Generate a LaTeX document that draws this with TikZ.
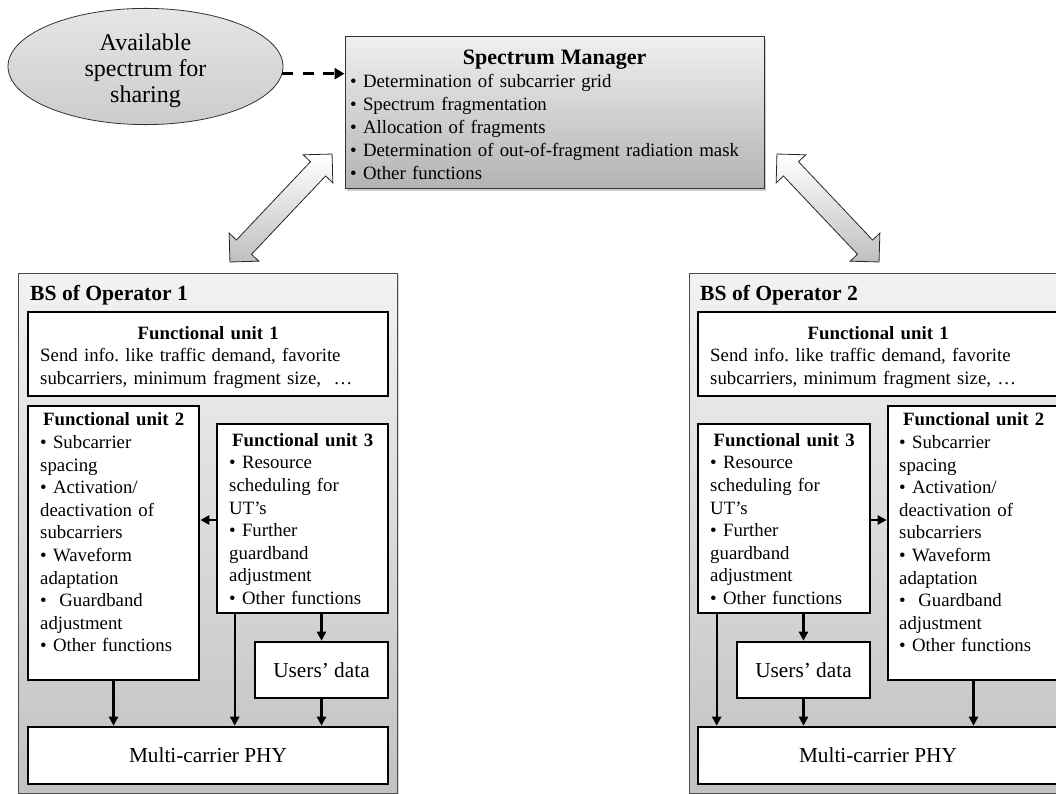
\documentclass[tikz,border=0pt]{standalone}
\usepackage{fontspec}
\setmainfont{Liberation Serif}
\frenchspacing
\usetikzlibrary{shapes.geometric,shapes.arrows,arrows.meta,shadows}
\begin{document}
\begin{tikzpicture}[x=1pt,y=-1pt,
  bsbox/.style={rectangle, draw=black!70, line width=0.9pt, top color=black!5, bottom color=black!24, inner sep=0pt, drop shadow={shadow xshift=1.5pt, shadow yshift=-1.5pt, opacity=0.3}},
  smbox/.style={rectangle, draw=black!80, line width=1pt, top color=black!6, bottom color=black!30, inner sep=0pt, drop shadow={shadow xshift=2pt, shadow yshift=-2pt, opacity=0.4}},
  ellnode/.style={ellipse, draw=black!80, line width=0.8pt, top color=black!10, bottom color=black!20, inner sep=0pt, align=center, font=\fontsize{24}{26}\selectfont},
  fubox/.style={rectangle, draw=black, line width=2.6pt, fill=white, inner sep=0pt},
  bigtext/.style={font=\fontsize{21.3}{24}\selectfont},
  futext/.style={anchor=north west, inner sep=0pt, text width=#1, align=left, font=\fontsize{18.8}{22.6}\selectfont},
  smtext/.style={anchor=north west, inner sep=0pt, text width=#1, align=left, font=\fontsize{18.8}{23}\selectfont},
  bstitle/.style={anchor=base west, inner sep=0pt, font=\fontsize{21.6}{26}\selectfont\bfseries},
  arr/.style={line width=2.4pt, -{Triangle[length=9pt,width=9pt]}},
  dasharr/.style={line width=3.4pt, dash pattern=on 11pt off 9.5pt, -{Triangle[length=10pt,width=11pt]}},
  blockarr/.style={double arrow, draw=black!85, line width=0.8pt, inner sep=10pt, double arrow head extend=10pt, double arrow tip angle=90, top color=white, bottom color=black!25},
]
\useasboundingbox (0,0) rectangle (1056,794);
\clip (0,0) rectangle (1056,794);

% top part
\node[ellnode, minimum width=275pt, minimum height=99pt] (avail) at (145.5,66.5) {\rule{0pt}{25pt}Available\\spectrum for\\sharing};
\node[smbox, minimum width=419pt, minimum height=152pt] (sm) at (554.5,113) {};
\node[smtext=409pt] (smt) at (350,47.9) {{\fontsize{22}{23}\selectfont\centering\bfseries\strut Spectrum Manager\par}\strut • Determination of subcarrier grid\\• Spectrum fragmentation\\• Allocation of fragments\\• Determination of out-of-fragment radiation mask\\• Other functions};
\coordinate (dstart) at (avail.-3);
\draw[dasharr] (dstart) -- (sm.west |- dstart);

\node[blockarr, rotate=46.6, minimum height=148.6pt] (ba1) at (281,208) {};
\node[blockarr, rotate=-46.6, minimum height=148.6pt] (ba2) at (828,208) {};

% operator 1
\node[bsbox, minimum width=379pt, minimum height=520.5pt] (bs1) at (207.5,533.25) {};
\node[bstitle] (bs1t) at (30,300) {BS of Operator 1};
\node[fubox, minimum width=360pt, minimum height=84pt] (fu1a) at (208,354) {};
\node[fubox, minimum width=171pt, minimum height=274pt] (fu2a) at (113.5,543) {};
\node[fubox, minimum width=171pt, minimum height=189pt] (fu3a) at (302.5,518.5) {};
\node[fubox, minimum width=133pt, minimum height=56pt, bigtext] (usa) at (321.5,670) {Users’ data};
\node[fubox, minimum width=360pt, minimum height=57pt, bigtext] (phya) at (208,755.5) {Multi-carrier PHY};
\node[futext=336pt] (t1a) at (40,323.2) {{\centering\bfseries\strut Functional unit 1\par}Send info. like traffic demand, favorite\\subcarriers, minimum fragment size,\ \ …};
\node[futext=147pt] (t2a) at (40,409.9) {{\centering\bfseries\strut Functional unit 2\par}• Subcarrier\\spacing\\• Activation/\\deactivation of\\subcarriers\\• Waveform\\adaptation\\•\ \ Guardband\\adjustment\\• Other functions};
\node[futext=147pt] (t3a) at (229,430.2) {{\centering\bfseries\strut Functional unit 3\par}• Resource\\scheduling for\\UT’s\\• Further\\guardband\\adjustment\\• Other functions};
\draw[arr] ([yshift=-1.5pt]fu3a.west) -- ([yshift=-1.5pt]fu3a.west -| fu2a.east);
\draw[arr] (fu2a.south) -- (fu2a.south |- phya.north);
\coordinate (c3a) at ([xshift=19pt]fu3a.south west);
\draw[arr] (c3a) -- (c3a |- phya.north);
\draw[arr] (usa.north |- fu3a.south) -- (usa.north);
\draw[arr] (usa.south) -- (usa.south |- phya.north);

% operator 2
\node[bsbox, minimum width=379pt, minimum height=520.5pt] (bs2) at (878.5,533.25) {};
\node[bstitle] (bs2t) at (700,300) {BS of Operator 2};
\node[fubox, minimum width=360pt, minimum height=84pt] (fu1b) at (878,354) {};
\node[fubox, minimum width=172pt, minimum height=189pt] (fu3b) at (784,518.5) {};
\node[fubox, minimum width=171pt, minimum height=274pt] (fu2b) at (973.5,543) {};
\node[fubox, minimum width=133pt, minimum height=56pt, bigtext] (usb) at (803.5,670) {Users’ data};
\node[fubox, minimum width=360pt, minimum height=57pt, bigtext] (phyb) at (878,755.5) {Multi-carrier PHY};
\node[futext=336pt] (t1b) at (710,323.2) {{\centering\bfseries\strut Functional unit 1\par}Send info. like traffic demand, favorite\\subcarriers, minimum fragment size, …};
\node[futext=148pt] (t3b) at (710,430.2) {{\centering\bfseries\strut Functional unit 3\par}• Resource\\scheduling for\\UT’s\\• Further\\guardband\\adjustment\\• Other functions};
\node[futext=149pt] (t2b) at (899,409.9) {{\centering\bfseries\strut Functional unit 2\par}• Subcarrier\\spacing\\• Activation/\\deactivation of\\subcarriers\\• Waveform\\adaptation\\•\ \ Guardband\\adjustment\\• Other functions};
\draw[arr] ([yshift=-1.5pt]fu3b.east) -- ([yshift=-1.5pt]fu3b.east -| fu2b.west);
\coordinate (c3b) at ([xshift=20pt]fu3b.south west);
\draw[arr] (c3b) -- (c3b |- phyb.north);
\draw[arr] (usb.north |- fu3b.south) -- (usb.north);
\draw[arr] (usb.south) -- (usb.south |- phyb.north);
\draw[arr] (fu2b.south) -- (fu2b.south |- phyb.north);
\end{tikzpicture}
\end{document}
